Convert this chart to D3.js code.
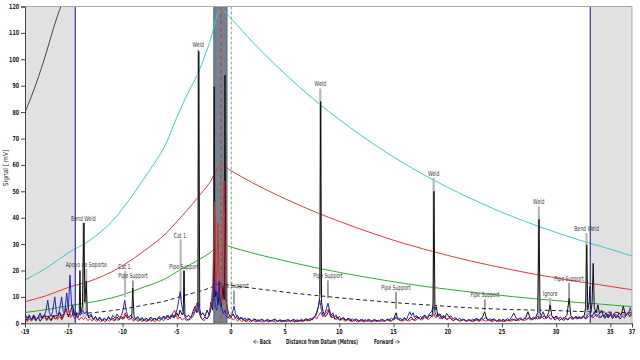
<!DOCTYPE html>
<html><head><meta charset="utf-8">
<script src="https://cdn.jsdelivr.net/npm/d3@7/dist/d3.min.js"></script>
<style>
html,body{margin:0;padding:0;background:#fff;}
svg text{font-family:"DejaVu Sans",sans-serif;}
</style></head>
<body><svg id="c" width="640" height="360"></svg>
<script>
// ---- data ----
const xTicks = [-19,-15,-10,-5,0,5,10,15,20,25,30,35,37];
const yTicks = [0,10,20,30,40,50,60,70,80,90,100,110,120];
const curveX = [-19,-17,-15,-13,-11,-9,-8,-7,-6,-5,-4,-3,-2,-0.9,0,2,4,6,8,10,12,14,16,18,20,22,24,26,28,30,32,34,37];
const cyanCurve = [16.4,21,26.7,31.5,38.5,49,55,61,68,78,87,95,106,119,115.5,106.5,98.3,90.7,83.6,77.2,71.2,65.6,60.5,55.8,51.5,47.5,43.8,40.4,37.3,34.4,31.7,29.3,25.5];
const redCurve = [8.2,10.5,13.6,16,19.5,24.5,27.5,30.5,34,38.5,43,48,53,60,57.8,53.2,49.1,45.3,41.8,38.6,35.6,32.8,30.2,27.9,25.7,23.7,21.9,20.2,18.6,17.2,15.8,14.6,12.7];
const greenCurve = [4.1,5.2,6.7,7.9,9.6,12.2,13.8,15.2,17,19.5,21.7,24,26.5,30,28.9,26.6,24.6,22.7,20.9,19.3,17.8,16.4,15.1,13.9,12.9,11.9,11.0,10.1,9.3,8.6,7.9,7.3,6.3];
const dashCurve = [2.05,2.6,3.35,3.95,4.8,6.1,6.9,7.6,8.5,9.7,10.9,12,13.3,15,14.4,13.3,12.3,11.3,10.5,9.65,8.9,8.2,7.55,7.0,6.4,5.9,5.5,5.2,5.0,4.8,4.5,4.3,4.0];
const nearX = [-19,-18.5,-18,-17.5,-17,-16.5,-16,-15.6];
const nearCurve = [80,85,90.5,96.5,103,110,116.5,121];

const blackTrace = [[-19,2.2],[-18.8,1.0],[-18.6,2.8],[-18.4,1.4],[-18.2,3.2],[-18.0,1.1],[-17.8,2.4],[-17.6,0.8],[-17.4,2.0],[-17.2,3.4],[-17.0,1.2],[-16.8,2.6],[-16.6,1.0],[-16.4,3.0],[-16.2,1.6],[-16.0,2.2],[-15.8,4.2],[-15.6,1.8],[-15.4,3.6],[-15.2,5.6],[-15.0,2.4],[-14.8,4.8],[-14.6,6.8],[-14.45,3.0],[-14.3,4.2],[-14.15,2.0],[-14.0,3.4],[-13.93,20],[-13.86,4.0],[-13.7,6.5],[-13.56,38],[-13.48,8],[-13.35,16],[-13.25,3.5],[-13.1,2.0],[-12.9,3.0],[-12.7,1.4],[-12.5,2.4],[-12.3,1.0],[-12.1,2.0],[-11.9,0.9],[-11.7,1.8],[-11.5,1.0],[-11.3,2.2],[-11.1,1.2],[-10.9,2.0],[-10.7,1.0],[-10.5,2.4],[-10.3,1.3],[-10.1,2.6],[-9.9,1.6],[-9.7,3.2],[-9.5,2.0],[-9.3,3.0],[-9.15,2.5],[-9.06,13.3],[-8.95,3.0],[-8.8,1.5],[-8.6,2.6],[-8.4,1.2],[-8.2,2.2],[-8.0,1.0],[-7.8,2.0],[-7.6,1.1],[-7.4,2.4],[-7.2,1.3],[-7.0,2.0],[-6.8,1.2],[-6.6,2.6],[-6.4,1.5],[-6.2,2.8],[-6.0,1.6],[-5.8,3.0],[-5.6,1.8],[-5.4,3.4],[-5.2,2.2],[-5.0,4.0],[-4.85,2.6],[-4.7,5.0],[-4.5,3.2],[-4.4,4.0],[-4.33,20],[-4.25,3.5],[-4.1,2.4],[-3.9,3.0],[-3.7,2.0],[-3.5,4.5],[-3.3,6.5],[-3.15,4.0],[-3.05,5.0],[-2.97,103],[-2.88,5.5],[-2.75,3.0],[-2.6,4.0],[-2.4,2.6],[-2.2,5.0],[-2.0,3.0],[-1.85,8.0],[-1.7,5],[-1.6,12],[-1.54,89.6],[-1.47,10],[-1.35,13],[-1.2,7],[-1.05,12],[-0.9,6],[-0.75,14],[-0.62,9],[-0.55,94],[-0.48,10],[-0.35,6],[-0.2,3.5],[0.0,2.2],[0.2,3.5],[0.4,2.0],[0.6,3.0],[0.8,1.4],[1.0,2.2],[1.3,1.0],[1.6,1.8],[1.9,0.8],[2.2,1.6],[2.5,0.8],[2.8,1.5],[3.1,0.7],[3.4,1.4],[3.7,0.8],[4.0,1.6],[4.3,0.7],[4.6,1.3],[4.9,0.6],[5.2,1.4],[5.5,0.8],[5.8,1.5],[6.1,0.6],[6.4,1.2],[6.7,0.8],[7.0,1.6],[7.3,1.0],[7.6,2.0],[7.85,3.0],[8.05,6],[8.2,10],[8.28,84],[8.36,8],[8.5,4.5],[8.7,2.5],[8.9,3.5],[9.05,5.0],[9.2,2.4],[9.4,3.0],[9.6,1.5],[9.8,2.4],[10.0,1.2],[10.3,2.0],[10.6,1.0],[10.9,1.8],[11.2,0.8],[11.5,1.6],[11.8,0.7],[12.1,1.4],[12.4,0.8],[12.7,1.5],[13.0,0.7],[13.3,1.3],[13.6,0.8],[13.9,1.5],[14.2,0.9],[14.5,1.6],[14.8,1.0],[15.05,2.0],[15.23,4.0],[15.4,1.6],[15.7,1.0],[16.0,1.8],[16.3,1.0],[16.6,2.4],[16.9,1.2],[17.2,2.6],[17.5,1.4],[17.8,3.0],[18.1,1.8],[18.35,3.2],[18.55,2.4],[18.65,8],[18.73,50],[18.82,5],[18.95,6.3],[19.1,2.5],[19.3,3.4],[19.5,1.6],[19.7,2.8],[19.9,1.4],[20.2,2.2],[20.5,1.0],[20.8,1.8],[21.1,0.8],[21.4,1.6],[21.7,0.8],[22.0,1.4],[22.3,0.8],[22.6,1.8],[22.9,1.0],[23.2,2.2],[23.4,4.4],[23.6,1.8],[23.9,1.0],[24.2,1.6],[24.5,0.8],[24.8,1.4],[25.1,0.7],[25.4,1.3],[25.7,0.9],[26.0,1.6],[26.3,1.0],[26.6,1.8],[26.9,1.2],[27.2,2.2],[27.4,4.4],[27.6,2.0],[27.85,1.4],[28.1,2.2],[28.3,4.0],[28.42,39.4],[28.52,4.0],[28.7,2.0],[28.9,3.0],[29.1,2.0],[29.3,4.0],[29.45,7.0],[29.6,3.0],[29.8,2.0],[30.0,2.8],[30.2,1.6],[30.4,2.4],[30.6,1.4],[30.8,2.2],[31.0,3.0],[31.2,9.5],[31.35,3.0],[31.6,1.8],[31.8,2.6],[32.0,1.6],[32.2,2.4],[32.4,1.8],[32.6,3.0],[32.72,6],[32.82,29.7],[32.92,5],[33.05,8],[33.12,14],[33.2,4],[33.32,8],[33.42,22.7],[33.52,6],[33.7,4.0],[33.86,7.0],[34.0,3.5],[34.2,5.0],[34.4,2.4],[34.6,4.0],[34.8,2.0],[35.0,3.4],[35.2,1.8],[35.4,3.0],[35.6,2.2],[35.8,4.0],[36.0,3.0],[36.2,6.5],[36.4,3.0],[36.6,4.0],[36.8,2.5],[37.0,3.5]];

const blueTrace = [[-19,3.6],[-18.8,2.0],[-18.6,3.2],[-18.4,1.2],[-18.2,2.6],[-18.0,1.0],[-17.8,2.2],[-17.6,3.8],[-17.4,1.8],[-17.2,3.0],[-17.05,5.0],[-16.9,8.8],[-16.75,4.0],[-16.6,2.6],[-16.45,4.5],[-16.25,10],[-16.1,4.0],[-15.95,2.8],[-15.8,5.5],[-15.62,10],[-15.48,4.5],[-15.35,3.5],[-15.15,11.5],[-15.0,5.0],[-14.85,18.3],[-14.72,8],[-14.6,3.0],[-14.45,4.5],[-14.3,2.5],[-14.1,4.0],[-13.9,3.0],[-13.7,5.0],[-13.5,3.6],[-13.3,4.5],[-13.1,2.6],[-12.9,3.5],[-12.7,1.6],[-12.5,2.6],[-12.3,1.2],[-12.1,2.4],[-11.9,1.0],[-11.7,2.0],[-11.5,1.2],[-11.3,2.6],[-11.1,1.4],[-10.9,3.0],[-10.7,2.0],[-10.5,3.5],[-10.3,2.2],[-10.1,3.0],[-9.95,5.0],[-9.8,8.8],[-9.65,4.5],[-9.5,2.5],[-9.3,1.8],[-9.1,2.4],[-8.9,1.2],[-8.7,2.0],[-8.5,1.0],[-8.3,1.8],[-8.1,0.9],[-7.9,1.6],[-7.7,0.8],[-7.5,1.8],[-7.3,1.0],[-7.1,2.0],[-6.9,1.2],[-6.7,2.2],[-6.5,1.4],[-6.3,2.4],[-6.1,1.6],[-5.9,3.0],[-5.7,2.0],[-5.5,3.2],[-5.3,2.0],[-5.1,3.8],[-4.95,5.5],[-4.8,9],[-4.68,12],[-4.55,7],[-4.4,4],[-4.25,2.5],[-4.1,1.6],[-3.9,1.2],[-3.7,1.8],[-3.5,2.6],[-3.3,4.5],[-3.15,6.0],[-3.04,8.0],[-2.9,4.0],[-2.75,2.0],[-2.6,1.4],[-2.4,2.4],[-2.2,1.6],[-2.0,3.0],[-1.85,5.5],[-1.7,8],[-1.56,17.7],[-1.45,6],[-1.3,5],[-1.18,10],[-1.1,16],[-1.0,7],[-0.85,6],[-0.7,3.5],[-0.55,5],[-0.45,3],[-0.3,2.0],[-0.1,2.6],[0.1,3.5],[0.2,5.0],[0.29,6.5],[0.4,4.0],[0.55,2.2],[0.7,1.4],[0.9,2.4],[1.1,1.2],[1.3,2.0],[1.5,1.0],[1.7,1.8],[1.9,0.8],[2.1,1.6],[2.3,0.8],[2.5,1.4],[2.7,0.7],[2.9,1.6],[3.1,0.8],[3.3,1.4],[3.5,0.6],[3.7,1.2],[3.9,0.7],[4.1,1.5],[4.3,0.8],[4.5,1.3],[4.7,0.6],[4.9,1.2],[5.1,0.7],[5.3,1.5],[5.5,0.8],[5.7,1.3],[5.9,0.6],[6.1,1.4],[6.3,0.8],[6.5,1.6],[6.7,1.0],[6.9,1.8],[7.1,1.0],[7.3,2.0],[7.5,1.2],[7.7,2.4],[7.9,4.0],[8.05,6.0],[8.2,8.8],[8.35,5.0],[8.5,3.0],[8.65,3.5],[8.8,5.5],[8.95,7.6],[9.1,5.0],[9.25,3.0],[9.4,4.0],[9.55,2.2],[9.7,3.2],[9.85,1.8],[10.0,2.6],[10.2,1.4],[10.4,2.2],[10.6,1.2],[10.8,2.0],[11.0,1.0],[11.2,1.8],[11.4,0.9],[11.6,1.6],[11.8,0.8],[12.0,1.5],[12.2,0.8],[12.4,1.4],[12.6,0.7],[12.8,1.3],[13.0,0.8],[13.2,1.5],[13.4,0.8],[13.6,1.2],[13.8,0.6],[14.0,1.4],[14.2,0.8],[14.4,1.6],[14.6,1.0],[14.8,2.0],[15.0,1.2],[15.2,2.4],[15.4,1.4],[15.6,2.0],[15.8,1.2],[16.0,2.2],[16.2,1.4],[16.35,3.0],[16.5,4.4],[16.65,2.8],[16.8,4.0],[16.95,2.2],[17.1,3.0],[17.3,1.6],[17.5,2.6],[17.7,1.8],[17.9,3.2],[18.1,2.0],[18.3,3.6],[18.5,4.5],[18.7,6.3],[18.85,4.0],[19.0,2.5],[19.2,3.6],[19.4,2.0],[19.6,3.0],[19.75,2.2],[19.9,3.8],[20.1,2.4],[20.3,2.8],[20.5,1.6],[20.7,2.2],[20.9,1.2],[21.1,2.0],[21.3,1.0],[21.5,1.6],[21.7,0.8],[21.9,1.4],[22.1,0.8],[22.3,1.6],[22.5,1.0],[22.7,1.8],[22.9,1.2],[23.1,2.0],[23.3,1.4],[23.5,2.2],[23.7,1.2],[23.9,1.8],[24.1,1.0],[24.3,1.6],[24.5,0.8],[24.7,1.4],[24.9,0.8],[25.1,1.6],[25.3,1.0],[25.5,1.8],[25.7,1.2],[25.9,2.4],[26.1,3.9],[26.3,2.0],[26.5,1.4],[26.7,2.2],[26.9,1.2],[27.1,2.0],[27.3,1.4],[27.5,2.2],[27.7,1.6],[27.9,2.4],[28.1,1.6],[28.3,2.8],[28.5,1.6],[28.65,3.0],[28.8,4.4],[28.95,2.6],[29.1,1.8],[29.3,2.6],[29.5,1.4],[29.7,2.2],[29.9,1.2],[30.1,2.0],[30.3,1.0],[30.5,1.8],[30.7,1.0],[30.9,2.0],[31.1,1.2],[31.3,2.2],[31.5,1.4],[31.7,2.4],[31.9,1.6],[32.1,2.6],[32.3,1.8],[32.5,2.8],[32.7,1.6],[32.9,3.2],[33.1,4.0],[33.3,2.4],[33.5,4.2],[33.7,2.6],[33.9,3.4],[34.1,2.0],[34.3,3.2],[34.5,1.8],[34.7,3.6],[34.9,2.4],[35.05,4.0],[35.2,2.6],[35.35,3.8],[35.5,2.0],[35.7,3.0],[35.9,1.6],[36.1,2.8],[36.3,2.0],[36.5,3.4],[36.7,4.2],[36.85,5.9],[37.0,3.0]];

const redTrace = [[-19,1.5],[-18.8,0.6],[-18.6,1.8],[-18.4,0.8],[-18.2,2.0],[-18.0,1.0],[-17.8,2.4],[-17.6,3.8],[-17.4,1.6],[-17.2,2.6],[-17.0,1.0],[-16.8,2.0],[-16.6,0.9],[-16.4,1.8],[-16.2,3.0],[-16.0,1.4],[-15.8,2.6],[-15.6,1.2],[-15.4,3.0],[-15.25,6.3],[-15.1,3.5],[-14.95,5.0],[-14.8,2.2],[-14.6,3.4],[-14.4,1.6],[-14.2,2.6],[-14.0,1.2],[-13.8,2.4],[-13.6,1.4],[-13.4,2.2],[-13.2,1.0],[-13.0,1.8],[-12.8,0.8],[-12.6,1.6],[-12.4,0.7],[-12.2,1.4],[-12.0,0.6],[-11.8,1.2],[-11.6,0.6],[-11.4,1.4],[-11.2,0.7],[-11.0,1.6],[-10.8,0.8],[-10.6,2.0],[-10.4,1.0],[-10.2,2.2],[-10.0,1.4],[-9.85,3.0],[-9.75,4.0],[-9.6,2.0],[-9.4,1.2],[-9.2,2.0],[-9.0,0.8],[-8.8,1.6],[-8.6,0.7],[-8.4,1.4],[-8.2,0.6],[-8.0,1.2],[-7.8,0.6],[-7.6,1.4],[-7.4,0.7],[-7.2,1.2],[-7.0,0.6],[-6.8,1.4],[-6.6,0.8],[-6.4,1.6],[-6.2,1.0],[-6.0,2.0],[-5.8,1.2],[-5.6,2.4],[-5.4,3.5],[-5.2,5.0],[-5.05,3.0],[-4.9,1.6],[-4.7,2.4],[-4.5,1.2],[-4.3,2.0],[-4.1,1.0],[-3.9,1.6],[-3.7,2.4],[-3.5,3.6],[-3.3,5.5],[-3.15,7.7],[-3.0,5.0],[-2.85,3.0],[-2.7,1.6],[-2.5,1.0],[-2.3,1.8],[-2.1,2.6],[-1.95,4.0],[-1.8,8],[-1.68,15],[-1.6,30],[-1.52,46],[-1.44,25],[-1.36,12],[-1.28,20],[-1.2,38],[-1.12,22],[-1.04,10],[-0.96,14],[-0.88,8],[-0.8,18],[-0.72,40],[-0.64,54],[-0.56,30],[-0.48,12],[-0.4,6],[-0.3,3],[-0.15,1.6],[0.0,2.4],[0.2,1.2],[0.4,2.0],[0.6,0.8],[0.8,1.6],[1.0,0.6],[1.2,1.2],[1.4,0.5],[1.6,1.0],[1.8,0.5],[2.0,1.2],[2.3,0.5],[2.6,1.0],[2.9,0.4],[3.2,1.0],[3.5,0.5],[3.8,1.1],[4.1,0.4],[4.4,1.0],[4.7,0.5],[5.0,1.2],[5.3,0.6],[5.6,1.0],[5.9,0.5],[6.2,1.2],[6.5,0.6],[6.8,1.4],[7.1,0.8],[7.4,1.6],[7.7,2.6],[7.9,1.6],[8.1,3.0],[8.3,4.2],[8.45,2.4],[8.6,3.0],[8.8,4.0],[9.0,5.5],[9.15,3.0],[9.3,2.0],[9.5,2.6],[9.7,1.4],[9.9,2.0],[10.1,1.0],[10.3,1.6],[10.5,0.8],[10.8,1.4],[11.1,0.6],[11.4,1.2],[11.7,0.5],[12.0,1.0],[12.3,0.5],[12.6,1.1],[12.9,0.5],[13.2,1.0],[13.5,0.6],[13.8,1.2],[14.1,0.6],[14.4,1.3],[14.7,0.7],[15.0,1.4],[15.3,2.4],[15.5,1.2],[15.8,0.8],[16.1,1.4],[16.4,0.8],[16.7,1.6],[17.0,1.0],[17.3,2.0],[17.6,1.2],[17.9,2.2],[18.2,1.4],[18.5,2.6],[18.7,3.6],[18.9,2.0],[19.1,3.0],[19.3,1.6],[19.6,2.6],[19.9,1.4],[20.2,2.0],[20.5,1.0],[20.8,1.6],[21.1,0.8],[21.4,1.4],[21.7,0.7],[22.0,1.2],[22.3,0.6],[22.6,1.2],[22.9,0.7],[23.2,1.4],[23.5,0.8],[23.8,1.2],[24.1,0.6],[24.4,1.2],[24.7,0.6],[25.0,1.1],[25.3,0.6],[25.6,1.3],[25.9,0.8],[26.2,1.6],[26.5,0.9],[26.8,1.6],[27.1,1.0],[27.4,2.0],[27.7,1.2],[28.0,2.2],[28.3,1.6],[28.6,2.8],[28.9,1.6],[29.2,2.4],[29.5,3.2],[29.8,1.8],[30.1,2.4],[30.4,1.4],[30.7,2.2],[31.0,1.4],[31.3,2.4],[31.6,1.6],[31.9,2.6],[32.2,1.8],[32.5,2.8],[32.8,1.8],[33.1,3.0],[33.4,2.0],[33.7,3.4],[34.0,2.0],[34.3,3.2],[34.6,2.2],[34.9,3.6],[35.2,2.4],[35.5,3.4],[35.8,2.2],[36.1,3.6],[36.4,2.6],[36.7,4.2],[37.0,2.6]];

const labelText = ["Bend Weld","Apoyo de Soporte","Cat 1.","Pipe Support","Weld","Cat 1.","Pipe Support","Pipe Support","Weld","Pipe Support","Pipe Support","Weld","Pipe Support","Weld","Ignore","Pipe Support","Bend Weld"];
const labelX    = [-13.62,-13.35,-9.77,-9.04,-3.02,-4.64,-4.33,0.28,8.24,8.95,15.23,18.7,23.43,28.4,29.45,31.19,32.8];
const labelY    = [38.9,21.5,20.6,17.0,104.5,32.5,20.5,13.2,89.7,17.0,12.7,55.9,9.8,45.1,10.4,16.1,35.0];
const pointerEnd= [2.5,2.5,10,11,6.5,9,12,7,11,9.5,5.5,2.5,5,1.5,4.5,9.5,1.5];

const shadeLeft = [-19,-14.36], shadeRight = [33.15,37];
const datumBand = [-1.64,-0.31];
const redMarker = -0.92, greenMarker = 0.03;

// ---- chart ----
const svg = d3.select("#c");
const L=25,R=632,T=6.5,B=323.3;
const x = d3.scaleLinear().domain([-19,37]).range([L,R]);
const y = d3.scaleLinear().domain([0,120]).range([B,T]);
// narrow text: horizontal scale around the anchor point
function narrowText(parent, px, py, str, f, opts){
  const t = parent.append("text").attr("transform",`translate(${px},${py}) scale(${f},1)`)
    .attr("text-anchor",opts.anchor||"middle").attr("font-size",opts.size||7)
    .attr("fill",opts.fill||"#222").text(str);
  if(opts.bold) t.attr("font-weight","bold");
  return t;
}

svg.append("defs").append("clipPath").attr("id","clip").append("rect").attr("x",L).attr("y",T).attr("width",R-L).attr("height",B-T);
const g = svg.append("g").attr("clip-path","url(#clip)");

[shadeLeft,shadeRight].forEach(s=>g.append("rect").attr("x",x(s[0])).attr("y",T).attr("width",x(s[1])-x(s[0])).attr("height",B-T).attr("fill","#e1e1e1"));
g.append("rect").attr("x",x(datumBand[0])).attr("y",T).attr("width",x(datumBand[1])-x(datumBand[0])).attr("height",B-T).attr("fill","#6c7888");
g.append("rect").attr("x",x(datumBand[0])+2).attr("y",T).attr("width",x(datumBand[1])-x(datumBand[0])-4).attr("height",B-T).attr("fill","#76838f");

const cl = d3.line().x((d,i)=>x(curveX[i])).y(d=>y(d)).curve(d3.curveMonotoneX);
g.append("path").attr("d",cl(cyanCurve)).attr("fill","none").attr("stroke","#3fc9d2").attr("stroke-width",1);
g.append("path").attr("d",cl(redCurve)).attr("fill","none").attr("stroke","#e03a3a").attr("stroke-width",1);
g.append("path").attr("d",cl(greenCurve)).attr("fill","none").attr("stroke","#2faa2f").attr("stroke-width",1);
g.append("path").attr("d",cl(dashCurve)).attr("fill","none").attr("stroke","#222").attr("stroke-width",1).attr("stroke-dasharray","4,3");
const nl = d3.line().x((d,i)=>x(nearX[i])).y(d=>y(d)).curve(d3.curveMonotoneX);
g.append("path").attr("d",nl(nearCurve)).attr("fill","none").attr("stroke","#333").attr("stroke-width",0.9);

// label pointers
labelText.forEach((t,i)=>{
  const heavy = !/Pipe Support/.test(t);
  g.append("line").attr("x1",x(labelX[i])).attr("x2",x(labelX[i]))
   .attr("y1",y(labelY[i])+2).attr("y2",y(pointerEnd[i]))
   .attr("stroke",heavy?"#b8b8b8":"#444").attr("stroke-width",heavy?2.2:1);
});

const tl = d3.line().x(d=>x(d[0])).y(d=>y(d[1]));
g.append("path").attr("d",tl(blackTrace)).attr("fill","none").attr("stroke","#111").attr("stroke-width",1);
g.append("path").attr("d",tl(redTrace)).attr("fill","none").attr("stroke","#e02828").attr("stroke-width",1);
g.append("path").attr("d",tl(blueTrace)).attr("fill","none").attr("stroke","#2424c8").attr("stroke-width",1);

// markers
[shadeLeft[1],shadeRight[0]].forEach(v=>g.append("line").attr("x1",x(v)).attr("x2",x(v)).attr("y1",T).attr("y2",B).attr("stroke","#3030b0").attr("stroke-width",1.2));
g.append("line").attr("x1",x(redMarker)).attr("x2",x(redMarker)).attr("y1",T).attr("y2",B).attr("stroke","#d03030").attr("stroke-width",1).attr("stroke-dasharray","4,3");
g.append("line").attr("x1",x(greenMarker)).attr("x2",x(greenMarker)).attr("y1",T).attr("y2",B+3).attr("stroke","#4a9a4a").attr("stroke-width",0.8).attr("stroke-dasharray","3,2");

// labels
const labG = svg.append("g");
labelText.forEach((t,i)=>narrowText(labG, x(labelX[i]), y(labelY[i]), t, 0.66, {fill:"#3a3a3a"}));

// frame
svg.append("line").attr("x1",L).attr("x2",R).attr("y1",T).attr("y2",T).attr("stroke","#aaa");
svg.append("line").attr("x1",R).attr("x2",R).attr("y1",T).attr("y2",B).attr("stroke","#aaa");

// axes
const ya = svg.append("g").attr("transform",`translate(${L},0)`).call(d3.axisLeft(y).tickValues(yTicks).tickSize(4).tickFormat(""));
const xa = svg.append("g").attr("transform",`translate(0,${B})`).call(d3.axisBottom(x).tickValues(xTicks).tickSize(4).tickFormat(""));
[ya,xa].forEach(a=>{
  a.select(".domain").attr("stroke","#444");
  a.selectAll(".tick line").attr("stroke","#444");
});
const tickG = svg.append("g");
yTicks.forEach(v=>narrowText(tickG, L-6, y(v)+2.5, String(v), 0.68, {anchor:"end", bold:true}));
xTicks.forEach(v=>narrowText(tickG, x(v), B+11, String(v), 0.68, {bold:true}));

svg.append("text").attr("transform","translate(8,168) rotate(-90) scale(0.85,1)").attr("text-anchor","middle").attr("font-size",7).attr("fill","#222").text("Signal [ mV]");
const bottomText = ["<- Back","Distance from Datum (Metres)","Forward ->"];
const bottomX = [262,322,387];
bottomText.forEach((t,i)=>narrowText(svg, bottomX[i], 344, t, 0.6, {bold:true}));
</script></body></html>
